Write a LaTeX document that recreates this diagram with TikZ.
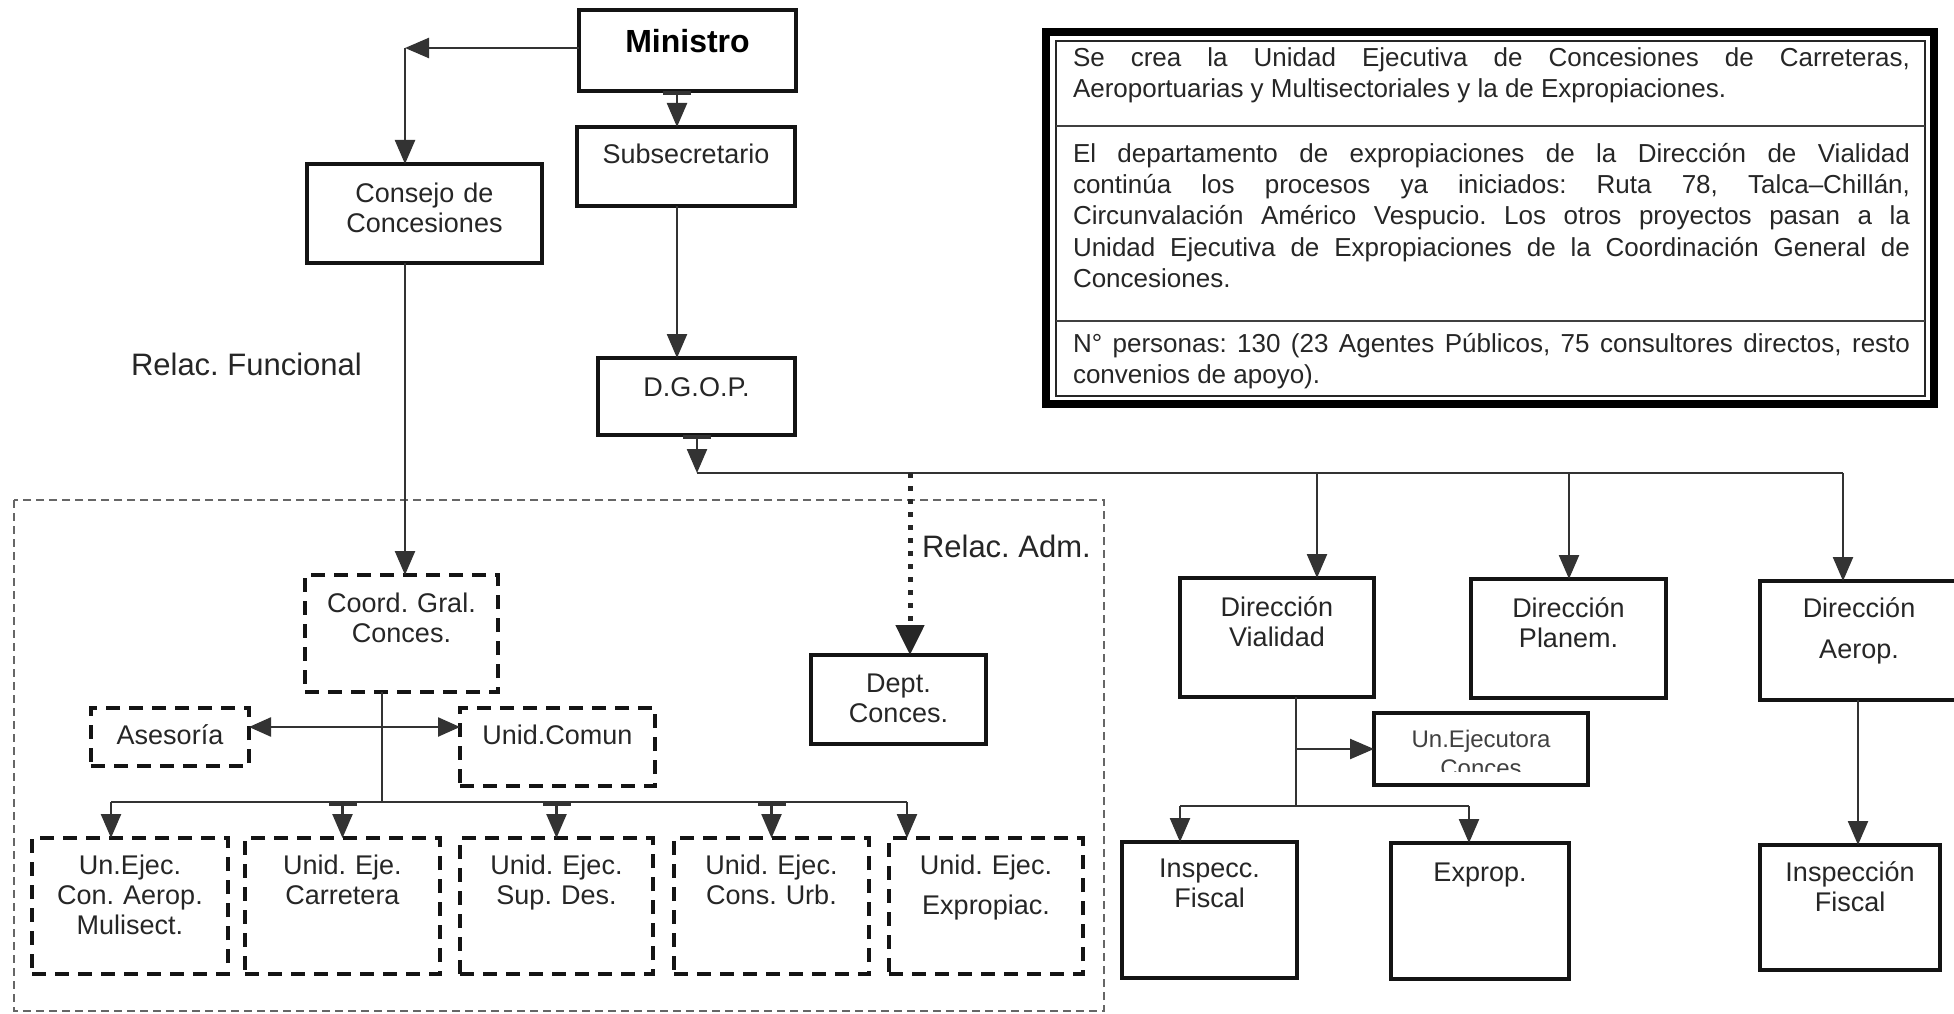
\documentclass[tikz,border=0pt]{standalone}
\usepackage{fontspec}
\setmainfont{Liberation Sans}
\usetikzlibrary{arrows.meta}
\frenchspacing
\tolerance=10000
\hyphenpenalty=10000

\begin{document}
\begin{tikzpicture}[x=1pt,y=-1pt,
  every node/.style={inner sep=0pt, outer sep=0pt},
  solidbox/.style={rectangle, draw=black!92, line width=4.5pt},
  dashbox/.style={rectangle, draw=black!92, line width=4pt, dash pattern=on 14pt off 9pt},
  boxlabel/.style={font=\fontsize{27pt}{30pt}\selectfont, text=black!85, align=center, anchor=base},
  infotext/.style={font=\fontsize{26pt}{31pt}\selectfont,
    text=black!85, anchor=base west, text width=837pt, align=justify},
  relac/.style={font=\fontsize{31pt}{34pt}\selectfont, text=black!85, anchor=base west},
  conn/.style={draw=black!80, line width=2.4pt},
  tip/.style={-{Triangle[length=24pt,width=20pt]}},
  bartip/.style={{Bar[width=28pt,line width=4pt]}-{Triangle[length=24pt,width=20pt]}},
  bothtips/.style={{Triangle[length=22pt,width=19pt]}-{Triangle[length=22pt,width=19pt]}},
  dotconn/.style={draw=black!85, line width=5pt, dash pattern=on 5pt off 8pt,
    -{Triangle[length=30pt,width=28pt]}},
  region/.style={draw=black!60, line width=2pt, dash pattern=on 8pt off 5pt}
]
\useasboundingbox (0,0) rectangle (1954,1014);
\fill[white] (0,0) rectangle (1954,1014);

% ---------- dashed region of the concessions coordination ----------
\draw[region] (14,500) rectangle (1104,1011);

% ---------- top of the hierarchy ----------
\node[solidbox, minimum width=217pt, minimum height=81pt] (min) at (687.5,50.5) {};
\node[boxlabel, font=\fontsize{32pt}{34pt}\selectfont\bfseries, text=black] (minT) at (687.5,53) {Ministro};

\node[solidbox, minimum width=218pt, minimum height=79pt] (sub) at (686,166.5) {};
\node[boxlabel] (subT) at (686,164) {Subsecretario};

\node[solidbox, minimum width=235pt, minimum height=99pt] (cons) at (424.5,213.5) {};
\node[boxlabel, text width=230pt] (consT) at (424.5,202) {Consejo de\\Concesiones};

\node[solidbox, minimum width=197pt, minimum height=77pt] (dgop) at (696.5,396.5) {};
\node[boxlabel] (dgopT) at (696.5,396) {D.G.O.P.};

\node[relac] (funcT) at (131,375) {Relac. Funcional};
\node[relac] (admT) at (922,557) {Relac. Adm.};

% ---------- directions under D.G.O.P. ----------
\node[solidbox, minimum width=175pt, minimum height=89pt] (dept) at (898.5,699.5) {};
\node[boxlabel, text width=170pt] (deptT) at (898.5,692) {Dept.\\Conces.};

\node[solidbox, minimum width=194pt, minimum height=119pt] (vial) at (1277,637.5) {};
\node[boxlabel, text width=190pt] (vialT) at (1277,616) {Dirección\\Vialidad};

\node[solidbox, minimum width=195pt, minimum height=119pt] (plan) at (1568.5,638.5) {};
\node[boxlabel, text width=190pt] (planT) at (1568.5,617) {Dirección\\Planem.};

\node[solidbox, minimum width=198pt, minimum height=119pt] (aero) at (1859,640.5) {};
\node[boxlabel, text width=190pt] (aeroT) at (1859,617) {Dirección\\[11pt]Aerop.};

\node[solidbox, minimum width=214pt, minimum height=72pt] (unej) at (1481,749) {};
\begin{scope}
  \clip (1378,716) rectangle (1584,771);
  \node[boxlabel, font=\fontsize{24pt}{29pt}\selectfont, text=black!75, text width=205pt] (unejT) at (1481,747) {Un.Ejecutora\\Conces};
\end{scope}

\node[solidbox, minimum width=175pt, minimum height=136pt] (insp) at (1209.5,910) {};
\node[boxlabel, text width=170pt] (inspT) at (1209.5,877) {Inspecc.\\Fiscal};

\node[solidbox, minimum width=178pt, minimum height=136pt] (expr) at (1480,911) {};
\node[boxlabel] (exprT) at (1480,881) {Exprop.};

\node[solidbox, minimum width=180pt, minimum height=125pt] (insp2) at (1850,907.5) {};
\node[boxlabel, text width=175pt] (insp2T) at (1850,881) {Inspección\\Fiscal};

% ---------- concessions coordination (dashed units) ----------
\node[dashbox, minimum width=193pt, minimum height=117pt] (coord) at (401.5,633.5) {};
\node[boxlabel, text width=188pt] (coordT) at (401.5,612) {Coord. Gral.\\Conces.};

\node[dashbox, minimum width=158pt, minimum height=58pt] (ases) at (170,737) {};
\node[boxlabel] (asesT) at (170,744) {Asesoría};

\node[dashbox, minimum width=195pt, minimum height=78pt] (ucom) at (557.5,747) {};
\node[boxlabel] (ucomT) at (557.5,744) {Unid.Comun};

\node[dashbox, minimum width=196pt, minimum height=136pt] (b1) at (130,906) {};
\node[boxlabel, text width=190pt] (b1T) at (130,874) {Un.Ejec.\\Con. Aerop.\\Mulisect.};

\node[dashbox, minimum width=195pt, minimum height=136pt] (b2) at (342.5,906) {};
\node[boxlabel, text width=190pt] (b2T) at (342.5,874) {Unid. Eje.\\Carretera};

\node[dashbox, minimum width=193pt, minimum height=136pt] (b3) at (556.5,906) {};
\node[boxlabel, text width=188pt] (b3T) at (556.5,874) {Unid. Ejec.\\Sup. Des.};

\node[dashbox, minimum width=195pt, minimum height=136pt] (b4) at (771.5,906) {};
\node[boxlabel, text width=190pt] (b4T) at (771.5,874) {Unid. Ejec.\\Cons. Urb.};

\node[dashbox, minimum width=194pt, minimum height=136pt] (b5) at (986,906) {};
\node[boxlabel, text width=190pt] (b5T) at (986,874) {Unid. Ejec.\\[10pt]Expropiac.};

% ---------- information panel ----------
\draw[draw=black, line width=8pt] (1046,32) rectangle (1934,404);
\draw[draw=black!85, line width=2pt] (1056,41) rectangle (1925,396);
\draw[draw=black!75, line width=2.5pt] (1056,126) -- (1925,126);
\draw[draw=black!75, line width=2.5pt] (1056,321) -- (1925,321);

\node[infotext] (info1) at (1073,67) {Se crea la Unidad Ejecutiva de Concesiones de Carreteras,\linebreak
Aeroportuarias y Multisectoriales y la de Expropiaciones.};
\node[infotext] (info2) at (1073,163) {El departamento de expropiaciones de la Dirección de Vialidad\linebreak
continúa los procesos ya iniciados: Ruta 78, Talca–Chillán,\linebreak
Circunvalación Américo Vespucio. Los otros proyectos pasan a la\linebreak
Unidad Ejecutiva de Expropiaciones de la Coordinación General de\linebreak
Concesiones.};
\node[infotext] (info3) at (1073,352) {N° personas: 130 (23 Agentes Públicos, 75 consultores directos, resto\linebreak
convenios de apoyo).};

% ---------- connectors ----------
\coordinate (mc) at (405,48);
\coordinate (ms) at (677,0);
\draw[conn, tip] (min.west |- mc) -- (mc);
\draw[conn, tip] (mc) -- (mc |- cons.north);
\draw[conn, bartip] (min.south -| ms) -- (sub.north -| ms);
\draw[conn, tip] (sub.south -| ms) -- (dgop.north -| ms);

% D.G.O.P. bus
\coordinate (tb0) at (697,473);
\coordinate (dd) at (910,473);
\coordinate (dv) at (1317,473);
\coordinate (dp) at (1569,473);
\coordinate (da) at (1843,473);
\draw[conn, bartip] (dgop.south -| tb0) -- (tb0);
\draw[conn] (tb0) -- (da);
\draw[conn, tip] (dv) -- (dv |- vial.north);
\draw[conn, tip] (dp) -- (dp |- plan.north);
\draw[conn, tip] (da) -- (da |- aero.north);
\draw[dotconn] (dd) -- (dd |- dept.north);

% functional relation down to the coordination
\draw[conn, tip] (cons.south -| mc) -- (coord.north -| mc);

% coordination bus
\coordinate (cj) at (382,802);
\coordinate (lbus) at (111,802);
\coordinate (rbus) at (907,802);
\coordinate (ah) at (0,727);
\draw[conn] (coord.south -| cj) -- (cj);
\draw[conn, bothtips] (ases.east |- ah) -- (ucom.west |- ah);
\draw[conn] (lbus) -- (rbus);
\draw[conn, tip] (lbus) -- (lbus |- b1.north);
\draw[conn, bartip] (b2.north |- lbus) -- (b2.north);
\draw[conn, bartip] (b3.north |- lbus) -- (b3.north);
\draw[conn, bartip] (b4.north |- lbus) -- (b4.north);
\draw[conn, tip] (rbus) -- (rbus |- b5.north);

% Vialidad branch
\coordinate (vj) at (1296,806);
\coordinate (vb) at (1296,749);
\coordinate (vl) at (1180,806);
\coordinate (vr) at (1469,806);
\draw[conn] (vial.south -| vj) -- (vj);
\draw[conn, tip] (vb) -- (vb -| unej.west);
\draw[conn] (vl) -- (vr);
\draw[conn, tip] (vl) -- (vl |- insp.north);
\draw[conn, tip] (vr) -- (vr |- expr.north);

% Aeropuertos branch
\coordinate (ai) at (1858,0);
\draw[conn, tip] (aero.south -| ai) -- (insp2.north -| ai);
\end{tikzpicture}
\end{document}
